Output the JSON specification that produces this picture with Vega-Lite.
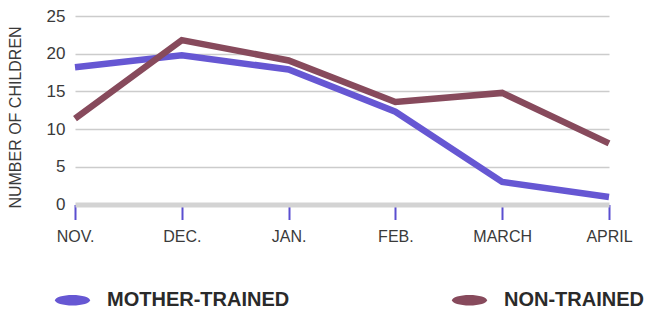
{
  "$schema": "https://vega.github.io/schema/vega-lite/v6.json",
  "autosize": "none",
  "width": 534,
  "height": 188.5,
  "padding": {"left": 75, "top": 16, "right": 36, "bottom": 106.5},
  "background": "white",
  "config": {"view": {"stroke": null}, "font": "Liberation Sans"},
  "data": {
    "values": [
      {"month": "NOV.", "group": "MOTHER-TRAINED", "children": 18.2},
      {"month": "DEC.", "group": "MOTHER-TRAINED", "children": 19.8},
      {"month": "JAN.", "group": "MOTHER-TRAINED", "children": 17.9},
      {"month": "FEB.", "group": "MOTHER-TRAINED", "children": 12.3},
      {"month": "MARCH", "group": "MOTHER-TRAINED", "children": 3.0},
      {"month": "APRIL", "group": "MOTHER-TRAINED", "children": 1.0},
      {"month": "NOV.", "group": "NON-TRAINED", "children": 11.4},
      {"month": "DEC.", "group": "NON-TRAINED", "children": 21.8},
      {"month": "JAN.", "group": "NON-TRAINED", "children": 19.1},
      {"month": "FEB.", "group": "NON-TRAINED", "children": 13.6},
      {"month": "MARCH", "group": "NON-TRAINED", "children": 14.8},
      {"month": "APRIL", "group": "NON-TRAINED", "children": 8.1}
    ]
  },
  "mark": {"type": "line", "strokeWidth": 6.5, "strokeJoin": "miter"},
  "encoding": {
    "x": {
      "field": "month",
      "type": "ordinal",
      "sort": ["NOV.", "DEC.", "JAN.", "FEB.", "MARCH", "APRIL"],
      "scale": {"type": "point", "padding": 0},
      "axis": {
        "title": null,
        "labelAngle": 0,
        "labelFont": "Liberation Sans",
        "labelFontSize": 16,
        "labelColor": "#3a3a3a",
        "labelPadding": 9,
        "domainColor": "#d3d3d3",
        "domainWidth": 5,
        "tickColor": "#5b4fd0",
        "tickWidth": 2,
        "tickSize": 15,
        "grid": false
      }
    },
    "y": {
      "field": "children",
      "type": "quantitative",
      "scale": {"domain": [0, 25], "nice": false},
      "axis": {
        "title": "NUMBER OF CHILDREN",
        "titleFont": "Liberation Sans",
        "titleFontSize": 16,
        "titleFontWeight": "normal",
        "titleColor": "#3a3a3a",
        "titleAngle": -90,
        "titleAlign": "center",
        "titleBaseline": "middle",
        "titleX": -60,
        "titleY": 101,
        "values": [0, 5, 10, 15, 20, 25],
        "labelFont": "Liberation Sans",
        "labelFontSize": 17,
        "labelColor": "#3a3a3a",
        "labelPadding": 10,
        "domain": false,
        "ticks": false,
        "grid": true,
        "gridColor": "#cccccc",
        "gridWidth": 1.5
      }
    },
    "color": {
      "field": "group",
      "type": "nominal",
      "scale": {"domain": ["MOTHER-TRAINED", "NON-TRAINED"], "range": ["#6657d3", "#874a5c"]},
      "legend": {
        "title": null,
        "orient": "none",
        "legendX": -20,
        "legendY": 266.5,
        "direction": "horizontal",
        "columns": 2,
        "columnPadding": 162,
        "padding": 0,
        "symbolType": "M-1,0A1,0.3 0 1,0 1,0A1,0.3 0 1,0 -1,0Z",
        "symbolSize": 1225,
        "symbolStrokeWidth": 0,
        "labelFont": "Liberation Sans",
        "labelFontSize": 20,
        "labelFontWeight": "bold",
        "labelColor": "#2a2a2a",
        "labelOffset": 17,
        "labelLimit": 400,
        "encode": {
          "symbols": {
            "update": {
              "fill": {"scale": "color", "field": "value"},
              "fillOpacity": {"value": 1},
              "strokeWidth": {"value": 0}
            }
          }
        }
      }
    }
  }
}
